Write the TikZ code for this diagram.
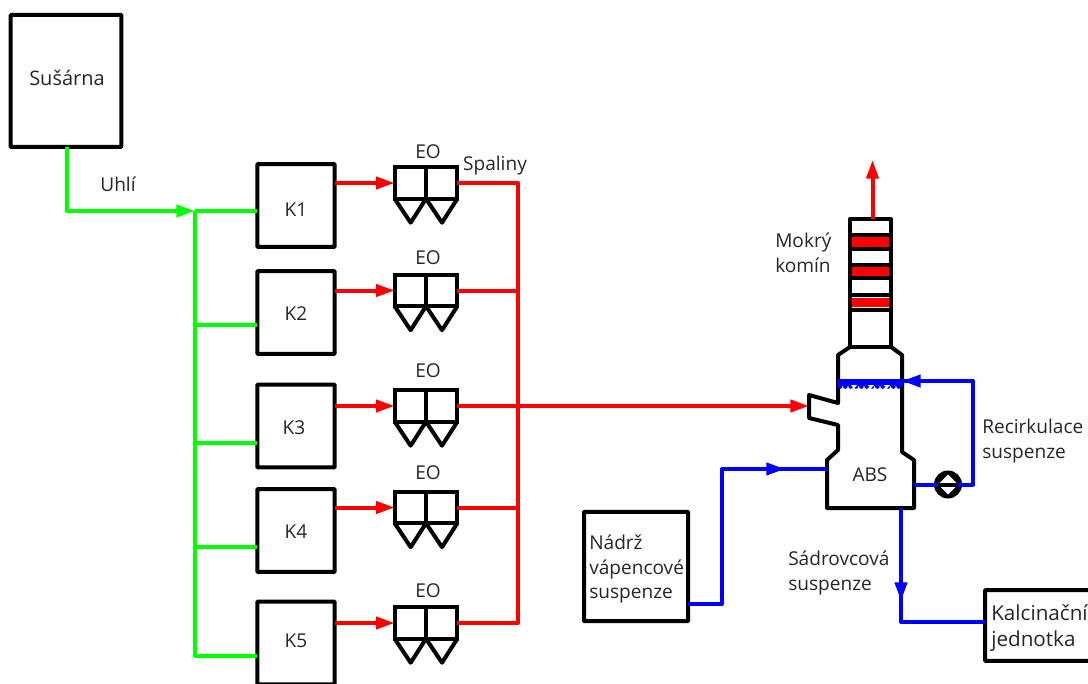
\documentclass[tikz,border=0pt]{standalone}
\usepackage{fontspec}
\setmainfont{Open Sans}
\usetikzlibrary{arrows.meta,calc,shapes.geometric}
\definecolor{coalgreen}{RGB}{0,255,0}
\tikzset{
	box/.style={draw=black, line width=3pt, fill=white, inner sep=0pt, outer sep=0pt, rounded corners=0.5pt},
	eobox/.style={draw=black, line width=3pt, fill=white, inner sep=0pt, outer sep=0pt, minimum width=47pt, minimum height=23.5pt},
	txt/.style={inner sep=0pt, align=left, text=black!85, font=\fontsize{14.3pt}{18.5pt}\selectfont},
	wall/.style={draw=black, line width=3pt, line join=round},
	coalline/.style={draw=coalgreen, line width=3pt, line join=round},
	gasline/.style={draw=red, line width=3pt, line join=round},
	slurryline/.style={draw=blue, line width=3pt, line join=round},
	tip/.style={-{Triangle[length=14pt,width=9pt]}},
}
\def\eofilter#1(#2,#3)(#4){
	\node[eobox] (#1) at (#2,#3) {};
	\draw[wall] (#1.north) -- (#1.south);
	\draw[wall] (#1.south west) -- ($(#1.south west)+(16,24)$) -- (#1.south) -- ($(#1.south)+(16,24)$) -- (#1.south east);
	\node[txt] (#1label) at (#4) {EO};
}

\begin{document}
\begin{tikzpicture}[x=0.75pt, y=-0.75pt]
		%%%%% START %%%%%
		\useasboundingbox (0, 0) rectangle (1088, 684);
		
		\node[box, minimum width=83pt, minimum height=99pt] (susarna) at (66, 81) {};
		\node[txt, font=\fontsize{15pt}{18.5pt}\selectfont] (susarnatext) at (67, 78) {Sušárna};
		\node[txt] (uhli) at (118, 184) {Uhlí};
		
		\node[box, minimum width=58pt, minimum height=62pt] (k1) at (296, 205.5) {};
		\node[box, minimum width=58pt, minimum height=62pt] (k2) at (296, 312.5) {};
		\node[box, minimum width=58pt, minimum height=62pt] (k3) at (296, 426) {};
		\node[box, minimum width=58pt, minimum height=62pt] (k4) at (296, 530.5) {};
		\node[box, minimum width=58pt, minimum height=62pt] (k5) at (296, 643) {};
		\node[txt] (k1text) at (296, 210) {K1};
		\node[txt] (k2text) at (296, 314) {K2};
		\node[txt] (k3text) at (294, 428) {K3};
		\node[txt] (k4text) at (296, 532) {K4};
		\node[txt] (k5text) at (296, 641) {K5};
		
		\eofilter{eo1}(426, 183)(428, 152)
		\eofilter{eo2}(426, 290.5)(428, 258)
		\eofilter{eo3}(426, 406)(428, 371)
		\eofilter{eo4}(426, 507.5)(428, 473)
		\eofilter{eo5}(426, 623)(428, 591)
		\node[txt] (spaliny) at (495, 166) {Spaliny};
		
		% coal feed
		\coordinate (coalturn) at (67, 211);
		\coordinate (coalnode) at (195, 211);
		\coordinate (coalk2) at (195, 325);
		\coordinate (coalk3) at (195, 443);
		\coordinate (coalk4) at (195, 547);
		\coordinate (coalend) at (195, 656);
		\draw[coalline, tip] (susarna.south -| coalturn) -- (coalturn) -- (coalnode);
		\draw[coalline] (coalnode) -- (k1.west |- coalnode);
		\draw[coalline] (coalnode) -- (coalend) -- (k5.west |- coalend);
		\draw[coalline] (coalk2) -- (k2.west |- coalk2);
		\draw[coalline] (coalk3) -- (k3.west |- coalk3);
		\draw[coalline] (coalk4) -- (k4.west |- coalk4);
		
		% flue gas
		\coordinate (gastop) at (518, 183);
		\coordinate (gasbot) at (518, 623);
		\coordinate (absin) at (809, 406);
		\draw[gasline, tip] (k1.east |- eo1.west) -- (eo1.west);
		\draw[gasline, tip] (k2.east |- eo2.west) -- (eo2.west);
		\draw[gasline, tip] (k3.east |- eo3.west) -- (eo3.west);
		\draw[gasline, tip] (k4.east |- eo4.west) -- (eo4.west);
		\draw[gasline, tip] (k5.east |- eo5.west) -- (eo5.west);
		\draw[gasline] (eo1.east) -- (gastop) -- (gasbot) -- (eo5.east);
		\draw[gasline] (eo2.east) -- (eo2.east -| gastop);
		\draw[gasline] (eo4.east) -- (eo4.east -| gastop);
		\draw[gasline, tip] (eo3.east) -- (absin);
		
		% absorber with wet stack
		\fill[red] (850, 237) rectangle (891, 247);
		\fill[red] (850, 267) rectangle (891, 276);
		\fill[red] (850, 298) rectangle (891, 307);
		\draw[wall] (850, 219) rectangle (891, 347);
		\draw[wall] (850, 235) -- (891, 235);
		\draw[wall] (850, 249) -- (891, 249);
		\draw[wall] (850, 265) -- (891, 265);
		\draw[wall] (850, 278) -- (891, 278);
		\draw[wall] (850, 295) -- (891, 295);
		\draw[wall] (850, 310) -- (891, 310);
		\draw[wall] (850, 347) -- (838, 355) -- (838, 403) -- (809, 395) -- (809, 418) -- (838, 425) -- (838, 450) -- (827, 460) -- (827, 508) -- (914, 508) -- (914, 460) -- (902, 452) -- (902, 355) -- (891, 347);
		\node[txt] (abs) at (870, 475) {ABS};
		\node[txt, anchor=west] (mokry) at (775, 253) {Mokrý\\komín};
		\coordinate (stacktop) at (872.5, 219);
		\coordinate (stackout) at (872.5, 160);
		\draw[gasline, tip] (stacktop) -- (stackout);
		
		% recirculation
		\fill[black] (948, 484.5) circle (14);
		\node[diamond, aspect=1, fill=white, inner sep=0pt, outer sep=0pt, minimum size=15pt] (pump) at (948, 484.5) {};
		\draw[black, line width=3pt] (pump.west) -- (pump.east);
		\coordinate (absout) at (914, 484.5);
		\coordinate (recturn) at (973, 484.5);
		\coordinate (recin) at (973, 381);
		\coordinate (sprayend) at (838, 381);
		\coordinate (sprayhead) at (902, 381);
		\draw[slurryline] (absout) -- (pump.west);
		\draw[slurryline] (pump.east) -- (recturn) -- (recin) -- (sprayend);
		\draw[slurryline, tip] (recin) -- (sprayhead);
		\fill[blue] (837, 379) rectangle (903, 386);
		\draw[draw=blue, line width=3.5pt, line cap=round, dash pattern=on 0pt off 4pt] (840, 386.5) -- (902, 386.5);
		\fill[white] (851, 385) -- (857, 385) -- (854, 388.5) -- cycle;
		\fill[white] (868, 385) -- (874, 385) -- (871, 388.5) -- cycle;
		\fill[white] (884, 385) -- (890, 385) -- (887, 388.5) -- cycle;
		\node[txt, anchor=west] (recirk) at (982, 441) {Recirkulace\\suspenze};
		
		% limestone tank
		\node[box, minimum width=78pt, minimum height=82pt] (nadrz) at (636, 566.5) {};
		\node[txt, anchor=west] (nadrztext) at (589, 569) {Nádrž\\vápencové\\suspenze};
		\coordinate (feedlow) at (722, 604);
		\coordinate (feedhigh) at (722, 469);
		\coordinate (feedmid) at (785, 469);
		\coordinate (absfeed) at (827, 469);
		\draw[slurryline] (feedhigh) -- (absfeed);
		\draw[slurryline, tip] (nadrz.east |- feedlow) -- (feedlow) -- (feedhigh) -- (feedmid);
		
		% gypsum slurry
		\node[box, minimum width=90pt, minimum height=53pt] (kalc) at (1045, 625.5) {};
		\node[txt, anchor=west, font=\fontsize{15.5pt}{20pt}\selectfont] (kalctext) at (991, 628) {Kalcinační\\jednotka};
		\node[txt, anchor=west] (sadr) at (788, 573) {Sádrovcová\\suspenze};
		\coordinate (gypout) at (901, 508);
		\coordinate (gyparrow) at (901, 601);
		\coordinate (gypturn) at (901, 622);
		\draw[slurryline] (gypout) -- (gypturn) -- (kalc.west |- gypturn);
		\draw[slurryline, tip] (gypout) -- (gyparrow);
		
		%%%%% END %%%%%
	\end{tikzpicture}
\end{document}
